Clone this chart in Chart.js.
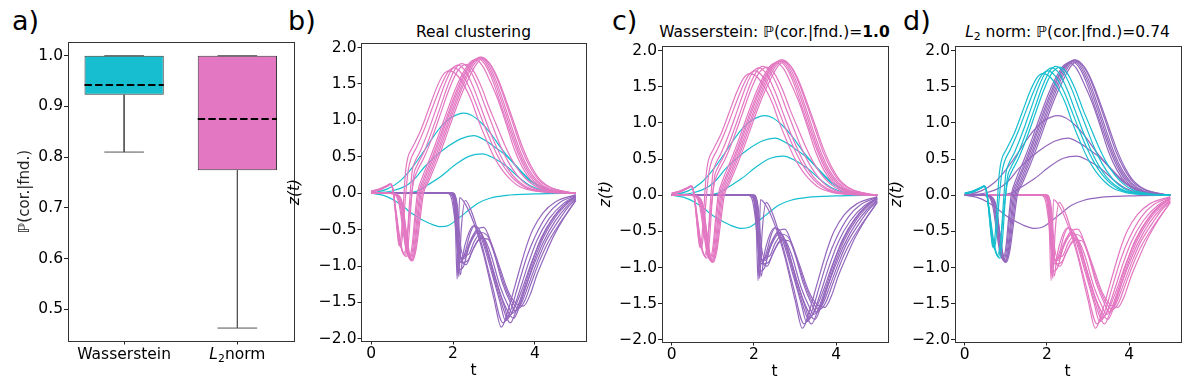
<!DOCTYPE html>
<html><head><meta charset="utf-8">
<script src="https://cdn.jsdelivr.net/npm/chart.js@4.4.1/dist/chart.umd.min.js"></script>
<style>
body{margin:0;width:1185px;height:388px;background:#fff;position:relative;overflow:hidden;font-family:"DejaVu Sans",sans-serif}
canvas{position:absolute}
.lbl{position:absolute;font-size:27px;line-height:1;color:#000;white-space:nowrap}
.ttl{position:absolute;font-size:15.5px;line-height:1;transform:translateX(-50%);white-space:nowrap;color:#000}
.ttl sub{font-size:70%;vertical-align:-0.25em;line-height:0}
</style></head>
<body>
<div class="lbl" style="left:12px;top:6.5px">a)</div>
<div class="lbl" style="left:288px;top:6.5px">b)</div>
<div class="lbl" style="left:612px;top:6.5px">c)</div>
<div class="lbl" style="left:903px;top:6.5px">d)</div>
<div class="ttl" style="left:473.5px;top:25px">Real clustering</div>
<div class="ttl" style="left:774.5px;top:25px">Wasserstein: ℙ(cor.|fnd.)=<b>1.0</b></div>
<div class="ttl" style="left:1067.5px;top:25px"><i>L</i><sub>2</sub> norm: ℙ(cor.|fnd.)=0.74</div>
<script>
// ---------- Panel a: box plot statistics ----------
const boxCategories = ['Wasserstein', 'L₂norm'];
const boxQ1 = [0.923, 0.774];
const boxMedian = [0.942, 0.875];
const boxQ3 = [1.0, 1.0];
const whiskerLow = [0.81, 0.463];
const whiskerHigh = [1.0, 1.0];
const probTicks = [0.5, 0.6, 0.7, 0.8, 0.9, 1.0];

// ---------- Panels b-d: trajectories z(t) ----------
const tTicks = [0, 2, 4];
const zTicks = [-2.0, -1.5, -1.0, -0.5, 0.0, 0.5, 1.0, 1.5, 2.0];

// family A: early bump, peak ~1.7 around t=2
const curveA1 = [[0,0.03],[0.2,0.06],[0.4,0.11],[0.47,0.13],[0.52,0.08],[0.58,-0.2],[0.64,-0.55],[0.68,-0.72],[0.73,-0.6],[0.78,-0.2],[0.84,0.3],[0.9,0.5],[1.0,0.62],[1.2,0.85],[1.4,1.15],[1.6,1.45],[1.75,1.62],[1.9,1.68],[2.1,1.62],[2.3,1.45],[2.45,1.27],[2.62,1.0],[2.8,0.75],[3.0,0.5],[3.2,0.32],[3.4,0.19],[3.6,0.1],[3.9,0.04],[4.3,0.01],[5.0,0.0]];
const curveA2 = [[0,0.02],[0.2,0.05],[0.4,0.11],[0.47,0.13],[0.53,0.06],[0.6,-0.3],[0.66,-0.62],[0.72,-0.74],[0.77,-0.55],[0.83,-0.1],[0.9,0.3],[0.97,0.47],[1.1,0.62],[1.3,0.88],[1.5,1.18],[1.7,1.47],[1.87,1.66],[2.02,1.72],[2.2,1.65],[2.4,1.45],[2.58,1.2],[2.75,0.95],[2.95,0.68],[3.15,0.45],[3.35,0.28],[3.55,0.16],[3.8,0.07],[4.2,0.02],[5.0,0.0]];
const curveA3 = [[0,0.02],[0.2,0.05],[0.4,0.1],[0.47,0.12],[0.53,0.05],[0.6,-0.25],[0.68,-0.6],[0.76,-0.8],[0.83,-0.85],[0.88,-0.6],[0.94,-0.1],[1.0,0.3],[1.06,0.42],[1.2,0.58],[1.4,0.86],[1.6,1.18],[1.8,1.5],[1.97,1.7],[2.12,1.76],[2.3,1.68],[2.5,1.45],[2.68,1.18],[2.85,0.92],[3.05,0.65],[3.25,0.42],[3.45,0.25],[3.65,0.14],[3.9,0.06],[4.3,0.02],[5.0,0.0]];
const curveA4 = [[0,0.02],[0.2,0.04],[0.4,0.1],[0.47,0.12],[0.53,0.04],[0.6,-0.22],[0.7,-0.62],[0.78,-0.82],[0.86,-0.87],[0.92,-0.6],[0.98,-0.1],[1.04,0.25],[1.12,0.38],[1.3,0.58],[1.5,0.88],[1.7,1.2],[1.9,1.52],[2.07,1.72],[2.22,1.78],[2.4,1.7],[2.6,1.47],[2.78,1.2],[2.95,0.95],[3.15,0.66],[3.35,0.43],[3.55,0.26],[3.75,0.14],[4.0,0.06],[4.4,0.02],[5.0,0.0]];
const curveA5 = [[0,0.03],[0.2,0.05],[0.4,0.1],[0.47,0.12],[0.53,0.05],[0.6,-0.25],[0.68,-0.62],[0.75,-0.78],[0.8,-0.83],[0.87,-0.65],[0.95,-0.2],[1.03,0.15],[1.12,0.3],[1.3,0.5],[1.5,0.78],[1.7,1.1],[1.9,1.42],[2.1,1.67],[2.32,1.77],[2.5,1.68],[2.7,1.45],[2.88,1.18],[3.05,0.95],[3.25,0.68],[3.45,0.45],[3.65,0.28],[3.85,0.16],[4.1,0.07],[4.5,0.02],[5.0,0.0]];

// family B: dip near t=1, peak ~1.86 around t=2.65
const curveB1 = [[0,0.01],[0.4,0.0],[0.58,-0.02],[0.68,-0.15],[0.77,-0.48],[0.85,-0.78],[0.93,-0.88],[1.0,-0.72],[1.07,-0.3],[1.13,0.0],[1.25,0.22],[1.45,0.5],[1.65,0.8],[1.85,1.12],[2.05,1.42],[2.25,1.66],[2.42,1.8],[2.55,1.83],[2.72,1.75],[2.92,1.52],[3.1,1.28],[3.3,0.95],[3.5,0.6],[3.7,0.35],[3.92,0.17],[4.2,0.06],[4.5,0.02],[5.0,0.0]];
const curveB2 = [[0,0.01],[0.4,0.0],[0.6,-0.02],[0.7,-0.14],[0.79,-0.48],[0.87,-0.8],[0.95,-0.9],[1.02,-0.74],[1.09,-0.32],[1.16,0.0],[1.28,0.2],[1.48,0.48],[1.68,0.78],[1.88,1.1],[2.08,1.4],[2.28,1.65],[2.45,1.8],[2.6,1.85],[2.78,1.77],[2.96,1.56],[3.15,1.25],[3.35,0.92],[3.55,0.6],[3.75,0.35],[3.97,0.17],[4.25,0.06],[4.6,0.02],[5.0,0.0]];
const curveB3 = [[0,0.01],[0.4,0.0],[0.6,-0.02],[0.72,-0.15],[0.81,-0.5],[0.89,-0.82],[0.97,-0.92],[1.04,-0.76],[1.12,-0.33],[1.19,0.0],[1.3,0.18],[1.5,0.46],[1.7,0.76],[1.9,1.08],[2.1,1.38],[2.3,1.64],[2.48,1.8],[2.63,1.86],[2.8,1.79],[3.0,1.56],[3.2,1.24],[3.4,0.9],[3.6,0.58],[3.8,0.34],[4.02,0.17],[4.3,0.06],[4.65,0.02],[5.0,0.0]];
const curveB4 = [[0,0.0],[0.4,0.0],[0.62,-0.02],[0.74,-0.14],[0.83,-0.5],[0.91,-0.83],[0.99,-0.93],[1.06,-0.77],[1.14,-0.35],[1.22,0.0],[1.34,0.18],[1.54,0.46],[1.74,0.76],[1.94,1.08],[2.14,1.38],[2.34,1.64],[2.52,1.81],[2.66,1.87],[2.84,1.79],[3.04,1.56],[3.24,1.24],[3.44,0.9],[3.64,0.58],[3.84,0.34],[4.06,0.17],[4.35,0.06],[4.7,0.02],[5.0,0.0]];
const curveB5 = [[0,0.0],[0.4,0.0],[0.63,-0.02],[0.75,-0.13],[0.84,-0.48],[0.92,-0.8],[1.0,-0.91],[1.08,-0.76],[1.17,-0.34],[1.25,0.0],[1.37,0.17],[1.57,0.45],[1.77,0.75],[1.97,1.07],[2.17,1.37],[2.37,1.63],[2.55,1.8],[2.7,1.87],[2.88,1.79],[3.08,1.57],[3.28,1.26],[3.48,0.93],[3.68,0.6],[3.88,0.36],[4.1,0.18],[4.4,0.07],[4.75,0.02],[5.0,0.0]];
const curveB6 = [[0,0.0],[0.4,0.0],[0.64,-0.02],[0.76,-0.14],[0.85,-0.5],[0.93,-0.82],[1.01,-0.93],[1.1,-0.76],[1.2,-0.33],[1.28,0.0],[1.4,0.16],[1.6,0.43],[1.8,0.73],[2.0,1.05],[2.2,1.35],[2.4,1.6],[2.58,1.78],[2.72,1.85],[2.9,1.78],[3.1,1.57],[3.3,1.27],[3.5,0.95],[3.7,0.63],[3.9,0.38],[4.12,0.19],[4.42,0.07],[4.8,0.02],[5.0,0.0]];

// family C: smooth single bumps
const curveC1 = [[0,0.0],[0.4,0.06],[0.73,0.18],[1.0,0.35],[1.3,0.59],[1.5,0.76],[1.7,0.91],[1.9,1.02],[2.1,1.08],[2.27,1.1],[2.45,1.07],[2.7,0.96],[2.92,0.82],[3.2,0.6],[3.57,0.36],[3.85,0.2],[4.14,0.09],[4.5,0.03],[5.0,0.0]];
const curveC2 = [[0,0.0],[0.5,0.03],[0.9,0.12],[1.1,0.22],[1.3,0.36],[1.6,0.52],[1.87,0.64],[2.2,0.75],[2.51,0.79],[2.8,0.72],[3.05,0.62],[3.33,0.5],[3.6,0.33],[3.9,0.16],[4.2,0.07],[4.6,0.02],[5.0,0.0]];
const curveC3 = [[0,0.0],[0.8,0.0],[1.13,0.03],[1.4,0.12],[1.7,0.23],[2.1,0.41],[2.4,0.51],[2.72,0.54],[3.0,0.48],[3.33,0.36],[3.6,0.22],[3.9,0.1],[4.2,0.04],[4.6,0.01],[5.0,0.0]];
const curveC4 = [[0,0.0],[0.3,-0.03],[0.57,-0.1],[0.8,-0.19],[0.97,-0.27],[1.2,-0.35],[1.45,-0.42],[1.7,-0.46],[1.9,-0.44],[2.1,-0.36],[2.3,-0.27],[2.6,-0.14],[2.9,-0.07],[3.3,-0.03],[4.0,-0.01],[5.0,0.0]];

// family D: late drop, deep minimum ~-1.5..-1.85
const curveD1 = [[0,0],[1.9,0],[2.0,-0.05],[2.06,-0.5],[2.1,-1.18],[2.13,-0.6],[2.16,-0.06],[2.3,-0.15],[2.5,-0.4],[2.75,-0.85],[3.0,-1.45],[3.18,-1.84],[3.35,-1.6],[3.5,-1.3],[3.65,-1.0],[3.8,-0.72],[3.95,-0.5],[4.2,-0.27],[4.5,-0.12],[5.0,-0.02]];
const curveD2 = [[0,0],[1.95,0],[2.05,-0.1],[2.1,-0.6],[2.14,-1.15],[2.2,-0.5],[2.3,-0.1],[2.45,-0.25],[2.7,-0.7],[2.95,-1.25],[3.22,-1.78],[3.4,-1.62],[3.6,-1.25],[3.8,-0.88],[4.0,-0.6],[4.3,-0.3],[4.6,-0.13],[5.0,-0.03]];
const curveD3 = [[0,0],[1.85,0],[1.95,-0.05],[2.05,-0.4],[2.12,-0.85],[2.2,-0.95],[2.3,-0.8],[2.42,-0.55],[2.52,-0.45],[2.68,-0.6],[2.95,-1.1],[3.15,-1.5],[3.28,-1.75],[3.45,-1.62],[3.65,-1.3],[3.85,-0.95],[4.05,-0.65],[4.35,-0.35],[4.7,-0.14],[5.0,-0.04]];
const curveD4 = [[0,0],[1.9,0],[2.0,-0.08],[2.1,-0.55],[2.18,-0.88],[2.28,-0.9],[2.4,-0.72],[2.55,-0.56],[2.65,-0.52],[2.8,-0.7],[3.05,-1.2],[3.25,-1.55],[3.35,-1.7],[3.5,-1.58],[3.7,-1.3],[3.9,-0.98],[4.1,-0.7],[4.4,-0.38],[4.7,-0.17],[5.0,-0.05]];
const curveD5 = [[0,0],[1.95,0],[2.05,-0.1],[2.12,-0.6],[2.2,-0.92],[2.32,-0.98],[2.45,-0.82],[2.6,-0.65],[2.72,-0.6],[2.9,-0.8],[3.15,-1.28],[3.35,-1.55],[3.45,-1.65],[3.62,-1.52],[3.8,-1.25],[4.0,-0.95],[4.2,-0.68],[4.5,-0.38],[4.8,-0.17],[5.0,-0.07]];
const curveD6 = [[0,0],[1.9,0],[2.02,-0.1],[2.1,-0.7],[2.16,-1.05],[2.26,-1.0],[2.38,-0.75],[2.55,-0.52],[2.75,-0.47],[2.95,-0.72],[3.2,-1.22],[3.4,-1.5],[3.52,-1.62],[3.68,-1.5],[3.85,-1.25],[4.05,-0.95],[4.25,-0.68],[4.55,-0.4],[4.8,-0.2],[5.0,-0.08]];
const curveD7 = [[0,0],[2.0,0],[2.08,-0.12],[2.15,-0.65],[2.22,-0.95],[2.35,-0.93],[2.5,-0.76],[2.68,-0.62],[2.85,-0.63],[3.02,-0.85],[3.25,-1.25],[3.45,-1.5],[3.6,-1.58],[3.75,-1.48],[3.92,-1.22],[4.1,-0.95],[4.3,-0.7],[4.6,-0.42],[4.85,-0.22],[5.0,-0.1]];
const curveD8 = [[0,0],[1.98,0],[2.06,-0.1],[2.12,-0.7],[2.18,-1.12],[2.24,-0.85],[2.35,-0.6],[2.5,-0.45],[2.62,-0.48],[2.85,-0.85],[3.1,-1.35],[3.3,-1.7],[3.4,-1.78],[3.55,-1.6],[3.75,-1.28],[3.95,-0.92],[4.15,-0.62],[4.45,-0.33],[4.75,-0.14],[5.0,-0.04]];
const curveD9 = [[0,0],[2.0,0],[2.1,-0.15],[2.18,-0.7],[2.25,-0.86],[2.38,-0.84],[2.52,-0.66],[2.7,-0.54],[2.88,-0.62],[3.1,-0.95],[3.35,-1.35],[3.55,-1.52],[3.72,-1.55],[3.88,-1.4],[4.05,-1.12],[4.25,-0.85],[4.45,-0.6],[4.7,-0.35],[4.9,-0.18],[5.0,-0.1]];
const curveD10 = [[0,0],[1.92,0],[2.02,-0.08],[2.1,-0.6],[2.17,-0.9],[2.27,-0.88],[2.4,-0.68],[2.58,-0.52],[2.72,-0.58],[2.95,-1.0],[3.2,-1.45],[3.4,-1.68],[3.48,-1.72],[3.62,-1.56],[3.8,-1.25],[4.0,-0.9],[4.2,-0.62],[4.5,-0.33],[4.8,-0.14],[5.0,-0.05]];

const familyA = [curveA1, curveA2, curveA3, curveA4, curveA5];
const familyB = [curveB1, curveB2, curveB3, curveB4, curveB5, curveB6];
const familyC = [curveC1, curveC2, curveC3, curveC4];
const familyD = [curveD1, curveD2, curveD3, curveD4, curveD5, curveD6, curveD7, curveD8, curveD9, curveD10];

// ---------- styling ----------
const PINK = '#e377c2', PURPLE = '#9467bd', CYAN = '#17becf';
const FONT = '"DejaVu Sans", "Liberation Sans", sans-serif';
const TICK_SIZE = 15.5;
const TICK_FONT = {family: FONT, size: TICK_SIZE};

const framePlugin = {
  id: 'frame',
  afterDatasetsDraw(chart) {
    const {ctx, chartArea: a} = chart;
    ctx.save();
    ctx.strokeStyle = '#333';
    ctx.lineWidth = 1;
    ctx.strokeRect(Math.round(a.left) + 0.5, Math.round(a.top) + 0.5,
                   Math.round(a.right) - Math.round(a.left), Math.round(a.bottom) - Math.round(a.top));
    ctx.restore();
  }
};

// draws the category labels of panel a (with italic L and subscript 2) at the x-scale tick positions
const categoryLabelPlugin = {
  id: 'catLabels',
  afterDraw(chart) {
    const {ctx} = chart;
    const xs = chart.scales.x;
    const y = chart.chartArea.bottom + 3.5 + 1 + TICK_SIZE * 0.6;
    ctx.save();
    ctx.fillStyle = '#000';
    ctx.textBaseline = 'middle';
    boxCategories.forEach((label, i) => {
      const cx = xs.getPixelForValue(i + 1);
      let parts;
      if (label.startsWith('L₂')) {
        parts = [{t: 'L', f: `italic ${TICK_SIZE}px ${FONT}`, dy: 0},
                 {t: '2', f: `${TICK_SIZE * 0.7}px ${FONT}`, dy: 4},
                 {t: label.slice(2), f: `${TICK_SIZE}px ${FONT}`, dy: 0}];
      } else {
        parts = [{t: label, f: `${TICK_SIZE}px ${FONT}`, dy: 0}];
      }
      let total = 0;
      parts.forEach(p => { ctx.font = p.f; p.w = ctx.measureText(p.t).width; total += p.w; });
      let x = cx - total / 2;
      ctx.textAlign = 'left';
      parts.forEach(p => { ctx.font = p.f; ctx.fillText(p.t, x, y + p.dy); x += p.w; });
    });
    ctx.restore();
  }
};

function makeCanvas(x, y, w, h) {
  const c = document.createElement('canvas');
  c.width = w; c.height = h;
  c.style.left = x + 'px'; c.style.top = y + 'px';
  c.style.width = w + 'px'; c.style.height = h + 'px';
  document.body.appendChild(c);
  return c;
}

function fmt(v) { return v.toFixed(1).replace('-', '\u2212'); }

function axisCommon() {
  return {
    grid: {display: true, offset: false, drawOnChartArea: false, drawTicks: true, tickLength: 3.5, color: '#222', lineWidth: 1},
    border: {display: false},
  };
}

// frame = plot area rectangle, cv = canvas rect
function curvePanel(cv, frame, colors, yTitleText) {
  const canvas = makeCanvas(cv.x, cv.y, cv.w, cv.h);
  const yW = frame.L - cv.x, xH = cv.y + cv.h - frame.B;
  const datasets = [];
  const groups = [[familyA, colors.A], [familyB, colors.B], [familyD, colors.D], [familyC, colors.C]];
  for (const [fam, col] of groups) {
    for (const curve of fam) {
      datasets.push({type: 'line', data: curve, borderColor: col, borderWidth: 1.2,
        pointRadius: 0, fill: false, cubicInterpolationMode: 'monotone'});
    }
  }
  new Chart(canvas, {
    type: 'line',
    data: {datasets},
    options: {
      responsive: false, animation: false, devicePixelRatio: 1,
      layout: {padding: {top: frame.T - cv.y, right: cv.x + cv.w - frame.R, left: 0, bottom: 0}},
      plugins: {legend: {display: false}, tooltip: {enabled: false}},
      scales: {
        x: Object.assign(axisCommon(), {
          type: 'linear', min: -0.25, max: 5.25,
          afterBuildTicks: s => { s.ticks = tTicks.map(v => ({value: v})); },
          afterFit: s => { s.height = xH; },
          ticks: {font: TICK_FONT, color: '#000', padding: 0, maxRotation: 0, autoSkip: false, callback: v => String(v)},
          title: {display: true, text: 't', font: {family: FONT, size: 15.5}, color: '#000', padding: 0}
        }),
        y: Object.assign(axisCommon(), {
          type: 'linear', min: -2.03, max: 2.063,
          afterBuildTicks: s => { s.ticks = zTicks.map(v => ({value: v})); },
          afterFit: s => { s.width = yW; },
          ticks: {font: TICK_FONT, color: '#000', padding: 1, autoSkip: false, callback: v => fmt(v)},
          title: {display: true, text: yTitleText, font: {family: FONT, size: 15.5, style: 'italic'}, color: '#000', padding: 0}
        })
      }
    },
    plugins: [framePlugin]
  });
}

// ---------- Panel a ----------
(function () {
  const frame = {L: 67.5, T: 42, R: 294, B: 341};
  const cv = {x: 16, y: 0, w: 281, h: 388};
  const canvas = makeCanvas(cv.x, cv.y, cv.w, cv.h);
  const yW = frame.L - cv.x, xH = cv.y + cv.h - frame.B;
  const boxFill = [CYAN, PINK];
  const datasets = [{
    type: 'bar',
    data: boxCategories.map((c, i) => ({x: i + 1, y: [boxQ1[i], boxQ3[i]]})),
    backgroundColor: boxFill, borderColor: '#3a3a3a', borderWidth: 1, borderSkipped: false,
    barPercentage: 0.7, categoryPercentage: 1.0, order: 3
  }];
  const capHalf = 0.175, boxHalf = 0.35;
  boxCategories.forEach((c, i) => {
    const x = i + 1;
    const line = (pts, extra) => Object.assign({type: 'line', data: pts, borderColor: '#555', borderWidth: 1,
      pointRadius: 0, fill: false, order: 2}, extra || {});
    datasets.push(line([{x, y: boxQ1[i]}, {x, y: whiskerLow[i]}]));
    datasets.push(line([{x: x - capHalf, y: whiskerLow[i]}, {x: x + capHalf, y: whiskerLow[i]}]));
    datasets.push(line([{x, y: boxQ3[i]}, {x, y: whiskerHigh[i]}]));
    datasets.push(line([{x: x - capHalf, y: whiskerHigh[i]}, {x: x + capHalf, y: whiskerHigh[i]}]));
    datasets.push(line([{x: x - boxHalf, y: boxMedian[i]}, {x: x + boxHalf, y: boxMedian[i]}],
      {borderColor: '#000', borderWidth: 2, borderDash: [7.4, 3.2], order: 1}));
  });
  new Chart(canvas, {
    type: 'bar',
    data: {datasets},
    options: {
      responsive: false, animation: false, devicePixelRatio: 1,
      layout: {padding: {top: frame.T - cv.y, right: cv.x + cv.w - frame.R, left: 0, bottom: 0}},
      plugins: {legend: {display: false}, tooltip: {enabled: false}},
      scales: {
        x: Object.assign(axisCommon(), {
          type: 'linear', min: 0.5, max: 2.5, offset: false,
          afterBuildTicks: s => { s.ticks = boxCategories.map((c, i) => ({value: i + 1})); },
          afterFit: s => { s.height = xH; },
          ticks: {font: TICK_FONT, color: '#000', padding: 0, maxRotation: 0, autoSkip: false,
            callback: () => ''}
        }),
        y: Object.assign(axisCommon(), {
          type: 'linear', min: 0.4375, max: 1.027,
          afterBuildTicks: s => { s.ticks = probTicks.map(v => ({value: v})); },
          afterFit: s => { s.width = yW; },
          ticks: {font: TICK_FONT, color: '#000', padding: 1, autoSkip: false, callback: v => fmt(v)},
          title: {display: true, text: 'ℙ(cor.|fnd.)', font: {family: FONT, size: 15}, color: '#222', padding: 0}
        })
      }
    },
    plugins: [framePlugin, categoryLabelPlugin]
  });
})();

// ---------- Panels b, c, d ----------
curvePanel({x: 286, y: 0, w: 304, h: 380}, {L: 361, T: 43, R: 586, B: 341},
  {A: PINK, B: PINK, C: CYAN, D: PURPLE}, 'z(t)');
curvePanel({x: 597, y: 0, w: 294, h: 381}, {L: 661.5, T: 46, R: 887.5, B: 342},
  {A: PINK, B: PINK, C: CYAN, D: PURPLE}, 'z(t)');
curvePanel({x: 888, y: 0, w: 297, h: 381}, {L: 954.5, T: 46, R: 1180.5, B: 342},
  {A: CYAN, B: PURPLE, C: PURPLE, D: PINK}, 'z(t)');
</script>
</body></html>
